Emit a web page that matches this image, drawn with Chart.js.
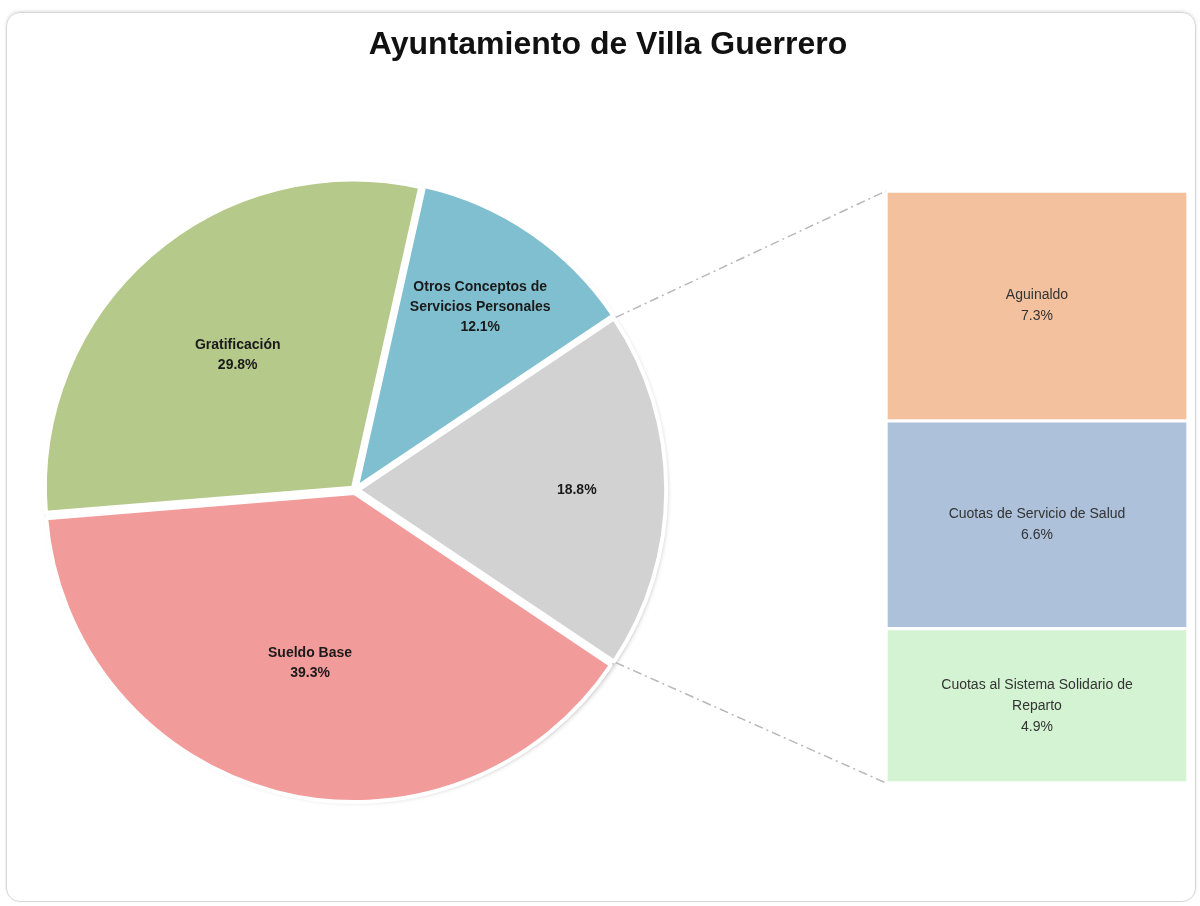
<!DOCTYPE html>
<html>
<head>
<meta charset="utf-8">
<script src="https://cdn.jsdelivr.net/npm/chart.js@4.4.0/dist/chart.umd.min.js"></script>
<style>
    html, body { margin: 0; padding: 0; background: #fff; }
    #wrap { position: relative; width: 1200px; height: 906px; overflow: hidden; }
    #card {
        position: absolute; left: 6px; top: 12px; width: 1188px; height: 888px;
        border: 1px solid #d6d6d6; border-radius: 14px;
        box-shadow: 0 -1px 3px rgba(0, 0, 0, 0.12);
    }
    #barBox { position: absolute; left: 886px; top: 191px; }
    #pieCanvas { position: absolute; left: 0; top: 0; }
</style>
</head>
<body>
<div id="wrap">
    <div id="card"></div>
    <div id="barBox"><canvas id="barCanvas" width="302" height="592"></canvas></div>
    <canvas id="pieCanvas" width="1200" height="906"></canvas>
</div>
<script>
    // Datos
    const chartTitle = 'Ayuntamiento de Villa Guerrero';
    const pieCategories = ['Otros Conceptos de Servicios Personales', 'Otros', 'Sueldo Base', 'Gratificación'];
    const pieValues = [12.1, 18.8, 39.3, 29.8];
    const pieShowName = [true, false, true, true];
    const splitIndex = 1; // porción que se desglosa en la barra
    const barCategories = ['Aguinaldo', 'Cuotas de Servicio de Salud', 'Cuotas al Sistema Solidario de Reparto'];
    const barValues = [7.3, 6.6, 4.9];

    const pieColors = ['#7fbfcf', '#d2d2d2', '#f29b9b', '#b5c98a'];
    const barColors = ['#f3c19d', '#adc1db', '#d4f3d2'];

    const FONT = '"Liberation Sans", Arial, sans-serif';
    const BAR_LEFT = 886, BAR_TOP = 191;

    const pieTotal = pieValues.reduce((a, b) => a + b, 0);
    const barTotal = barValues.reduce((a, b) => a + b, 0);
    const before = pieValues.slice(0, splitIndex).reduce((a, b) => a + b, 0);
    // la porción desglosada queda centrada hacia la derecha
    const rotation = 90 - (before + pieValues[splitIndex] / 2) / pieTotal * 360;

    const pct = v => `${v.toFixed(1)}%`;

    const wrapText = (ctx, text, maxWidth) => {
        const words = text.split(' ');
        const lines = [];
        let line = '';
        words.forEach(w => {
            const test = line ? line + ' ' + w : w;
            if (ctx.measureText(test).width > maxWidth && line) {
                lines.push(line);
                line = w;
            } else {
                line = test;
            }
        });
        if (line) lines.push(line);
        return lines;
    };

    const drawLines = (ctx, lines, x, y, lineHeight) => {
        const startY = y - (lines.length - 1) * lineHeight / 2;
        lines.forEach((l, i) => ctx.fillText(l, x, startY + i * lineHeight));
    };

    // Etiquetas dentro de la barra
    const barLabelPlugin = {
        id: 'barLabels',
        afterDatasetsDraw: (chart) => {
            const { ctx } = chart;
            ctx.save();
            ctx.font = `14px ${FONT}`;
            ctx.fillStyle = '#333';
            ctx.textAlign = 'center';
            ctx.textBaseline = 'middle';
            chart.data.datasets.forEach((ds, i) => {
                const el = chart.getDatasetMeta(i).data[0];
                const lines = wrapText(ctx, barCategories[i], 245);
                lines.push(pct(barValues[i]));
                drawLines(ctx, lines, el.x, (el.y + el.base) / 2, 21);
            });
            ctx.restore();
        }
    };

    const barChart = new Chart(document.getElementById('barCanvas'), {
        type: 'bar',
        data: {
            labels: [''],
            datasets: barCategories.map((c, i) => ({
                label: c,
                data: [barValues[i]],
                backgroundColor: barColors[i],
                borderColor: 'rgba(255,255,255,0.9)',
                borderWidth: 2,
                borderSkipped: false,
                barPercentage: 1,
                categoryPercentage: 1
            }))
        },
        options: {
            responsive: false,
            animation: false,
            layout: { padding: 0 },
            plugins: { legend: { display: false }, tooltip: { enabled: false } },
            scales: {
                x: { stacked: true, display: false },
                y: { stacked: true, display: false, reverse: true, min: 0, max: barTotal }
            }
        },
        plugins: [barLabelPlugin]
    });

    // Título centrado en toda la página
    const titlePlugin = {
        id: 'pageTitle',
        afterDraw: (chart) => {
            const { ctx, width } = chart;
            ctx.save();
            ctx.font = `bold 32px ${FONT}`;
            ctx.fillStyle = '#111';
            ctx.textAlign = 'center';
            ctx.textBaseline = 'middle';
            ctx.fillText(chartTitle, width / 2 + 8, 45);
            ctx.restore();
        }
    };

    // Sombra suave bajo el círculo (los huecos quedan blancos)
    const shadowPlugin = {
        id: 'pieShadow',
        beforeDatasetsDraw: (chart) => {
            const { ctx } = chart;
            const el = chart.getDatasetMeta(0).data[0];
            ctx.save();
            ctx.shadowColor = 'rgba(0,0,0,0.28)';
            ctx.shadowBlur = 5;
            ctx.shadowOffsetX = 2;
            ctx.shadowOffsetY = 2;
            ctx.fillStyle = '#ffffff';
            ctx.beginPath();
            ctx.arc(el.x, el.y, el.outerRadius + 2, 0, Math.PI * 2);
            ctx.fill();
            ctx.restore();
        }
    };

    const arcShift = (el) => {
        const off = (el.options.offset || 0) / 4;
        const fix = 1 - Math.sin(Math.min(Math.PI, el.endAngle - el.startAngle));
        const mid = (el.startAngle + el.endAngle) / 2;
        const t = off * (1 + fix);
        return { dx: Math.cos(mid) * t, dy: Math.sin(mid) * t };
    };

    // Etiquetas de la gráfica circular y líneas hacia la barra
    const pieExtrasPlugin = {
        id: 'pieExtras',
        afterDraw: (chart) => {
            const { ctx } = chart;
            const arcs = chart.getDatasetMeta(0).data;

            ctx.save();
            ctx.font = `bold 14px ${FONT}`;
            ctx.fillStyle = '#1a1a1a';
            ctx.textAlign = 'center';
            ctx.textBaseline = 'middle';
            arcs.forEach((el, i) => {
                const mid = (el.startAngle + el.endAngle) / 2;
                const f = pieValues[i] < 20 ? 0.72 : 0.58;
                const r = el.outerRadius * f;
                const lx = el.x + Math.cos(mid) * r;
                const ly = el.y + Math.sin(mid) * r;
                const lines = pieShowName[i] ? wrapText(ctx, pieCategories[i], 160) : [];
                lines.push(pct(pieValues[i]));
                drawLines(ctx, lines, lx, ly, 20);
            });
            ctx.restore();

            const el = arcs[splitIndex];
            const s = arcShift(el);
            const R = el.outerRadius + 2;
            const p1 = { x: el.x + s.dx + Math.cos(el.startAngle) * R, y: el.y + s.dy + Math.sin(el.startAngle) * R };
            const p2 = { x: el.x + s.dx + Math.cos(el.endAngle) * R, y: el.y + s.dy + Math.sin(el.endAngle) * R };

            const bar = barChart.getDatasetMeta(0).data[0];
            const yScale = barChart.scales.y;
            const bx = BAR_LEFT + bar.x - bar.width / 2;
            const bTop = BAR_TOP + yScale.getPixelForValue(0);
            const bBottom = BAR_TOP + yScale.getPixelForValue(barTotal);

            ctx.save();
            ctx.strokeStyle = '#b8b8b8';
            ctx.lineWidth = 1.5;
            ctx.setLineDash([9, 4, 2, 4]);
            ctx.beginPath();
            ctx.moveTo(p1.x, p1.y);
            ctx.lineTo(bx, bTop);
            ctx.moveTo(p2.x, p2.y);
            ctx.lineTo(bx, bBottom);
            ctx.stroke();
            ctx.restore();
        }
    };

    const pieChart = new Chart(document.getElementById('pieCanvas'), {
        type: 'pie',
        data: {
            labels: pieCategories,
            datasets: [{
                data: pieValues,
                backgroundColor: pieColors,
                borderColor: '#ffffff',
                borderWidth: 4,
                offset: 12
            }]
        },
        options: {
            responsive: false,
            animation: false,
            rotation: rotation,
            layout: { padding: { left: 38, right: 528, top: 174, bottom: 100 } },
            plugins: {
                legend: { display: false },
                tooltip: { enabled: false },
                title: { display: false }
            }
        },
        plugins: [shadowPlugin, pieExtrasPlugin, titlePlugin]
    });
</script>
</body>
</html>
